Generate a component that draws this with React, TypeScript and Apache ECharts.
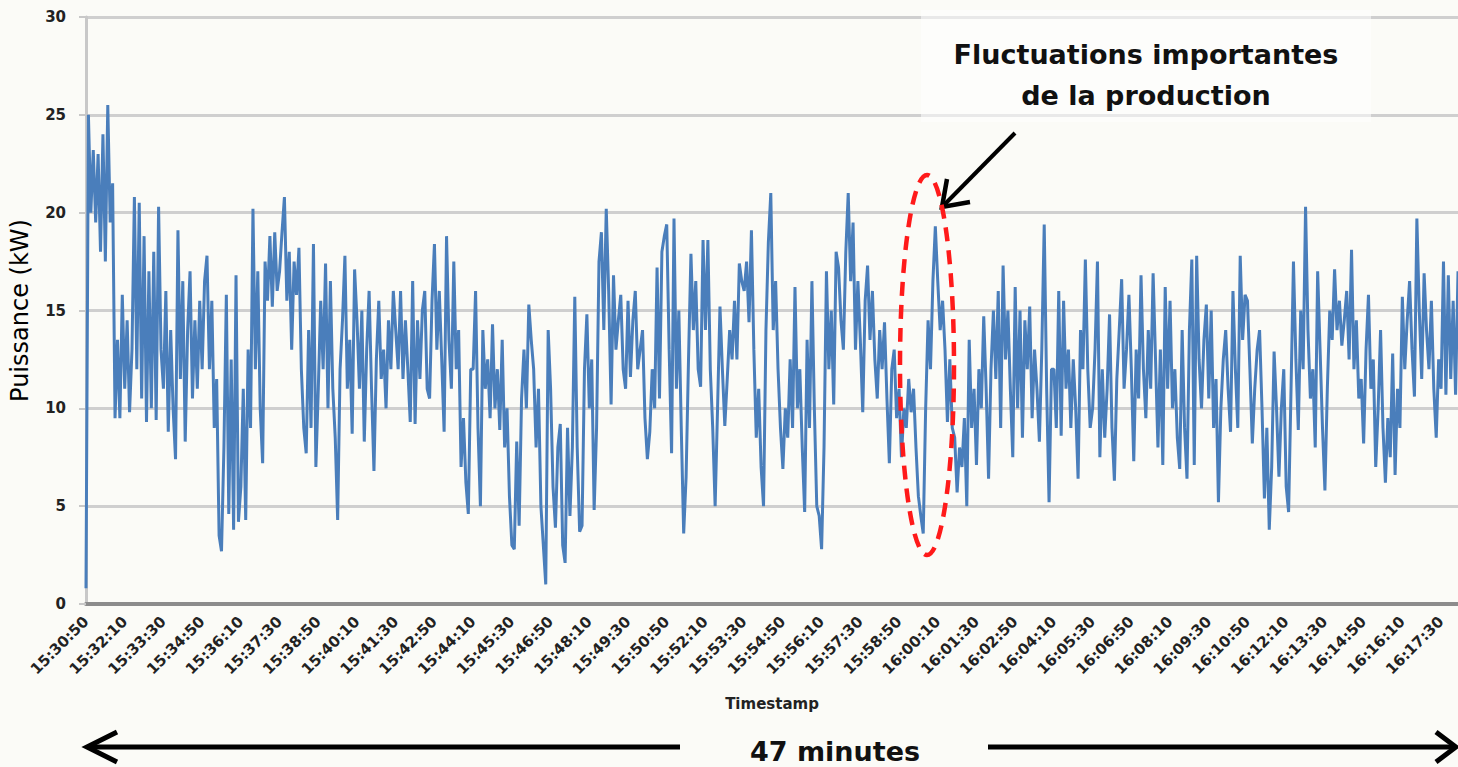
import React, { useEffect, useRef } from "react";
import * as echarts from "echarts";

// Time base: first sample 15:30:50, one sample every 5 s, a label every 80 s
const START_SECONDS = 15 * 3600 + 30 * 60 + 50;
const STEP_SECONDS = 5;
const LABEL_EVERY = 16;

// Power (kW), in blocks of 5 min 20 s
const power_153050 = [
  0.8, 25, 20, 23.2, 19.5, 23, 18, 24, 17.5, 25.5, 19.5, 21.5, 9.5, 13.5, 9.5, 15.8,
  11, 14.5, 9.8, 13, 20.8, 12, 20.5, 10.5, 18.8, 9.3, 17, 10, 18, 9.4, 20.3, 13,
  11, 16, 8.8, 14, 10, 7.4, 19.1, 11.5, 16.5, 8.3, 14, 17, 10.5, 14.5, 11, 15.5,
  12, 16.5, 17.8, 12, 15.5, 9, 11.5, 3.5, 2.7, 8, 15.8, 4.6, 12.5, 3.8, 16.8, 4.2,
];
const power_153610 = [
  6, 11, 4.3, 13, 9, 20.2, 12, 17, 10, 7.2, 17.5, 15.5, 18.8, 15.2, 19, 16,
  17, 19, 20.8, 15.5, 18, 13, 17.5, 15.8, 18.2, 12, 9, 7.7, 14, 9, 18.4, 7,
  11, 15.5, 12, 17.4, 10, 16.5, 11, 8.5, 4.3, 12, 14.5, 17.8, 11, 13.5, 8.7, 17.1,
  14.5, 11, 15, 8.3, 13, 16, 11, 6.8, 12.5, 15.5, 11.5, 13, 10, 14.5, 12, 16,
];
const power_154130 = [
  14, 12, 16, 11.5, 14.5, 12, 9.3, 16.5, 9.2, 14.5, 11.5, 15, 16, 11, 10.5, 15.5,
  18.4, 13, 16, 12.5, 8.8, 18.8, 13.5, 11, 17.5, 12, 14, 7, 9.5, 6.2, 4.6, 12,
  12, 16, 9, 5, 14, 11, 12.5, 9.5, 14.3, 10, 12, 8.9, 13.5, 8, 10, 5.5,
  3, 2.8, 8.3, 4, 10.5, 13, 10, 15.3, 13.5, 12, 8, 11, 5, 3, 1, 14,
];
const power_154650 = [
  11, 6, 3.9, 8, 9.2, 3, 2.1, 9, 4.5, 8, 15.7, 8, 3.7, 4, 12, 14.8,
  10, 12.5, 4.8, 9, 17.5, 19, 14, 20.2, 16, 10.2, 16.8, 13, 14.5, 15.8, 12, 11,
  15.5, 11.6, 14.5, 16, 12, 13, 14, 9.5, 7.4, 8.8, 12, 10, 17.2, 10.5, 18, 18.8,
  19.4, 13, 7.7, 19.7, 11, 15, 9, 3.6, 6.5, 12.5, 17.9, 14, 16.5, 12, 11.1, 18.6,
];
const power_155210 = [
  14, 18.6, 12, 9, 5, 10, 15.2, 12, 9.1, 11.5, 14, 12.5, 15.5, 12.5, 17.4, 16.5,
  16, 17.5, 14.4, 19.1, 13, 8.5, 11, 7, 5, 14, 18.5, 21, 14, 16.5, 12, 9,
  6.9, 10, 8.5, 12.5, 9, 16.2, 10, 12, 8, 4.7, 13.5, 9, 16.5, 10, 5, 4.5,
  2.8, 8, 17, 12, 15, 10.2, 18, 17.2, 14.5, 13, 18, 21, 16.5, 19.5, 13, 16.5,
];
const power_155730 = [
  13.5, 9.8, 15.5, 17.3, 13.5, 16, 12.5, 10.5, 14, 12, 14.4, 10.5, 7.2, 12, 13, 9.5,
  11, 7.5, 10, 9, 11.5, 9.8, 11, 8, 5.5, 4.5, 3.6, 10, 14.5, 12, 16.5, 19.3,
  16.5, 14, 15.5, 13, 9.3, 12.5, 9, 8.5, 5.7, 8, 7, 9.5, 5, 13.5, 9, 11,
  7.1, 12, 10, 14.7, 11, 6.4, 12, 15, 11.5, 16, 9, 17.3, 12.5, 15, 11, 7.5,
];
const power_160250 = [
  16.2, 10, 15, 8.5, 14.5, 12, 15.2, 9.5, 13, 11, 8.3, 13, 19.4, 11, 5.2, 12,
  12, 9, 16, 8.6, 15.5, 11, 13, 9, 12.5, 10, 6.4, 14, 12, 17.6, 12, 9,
  10, 13, 17.5, 7.5, 12, 8.5, 11, 14.8, 9, 6.3, 11.5, 14, 16.6, 11, 13, 15.8,
  12, 7.3, 13, 10.5, 16.8, 12, 9.5, 14, 11, 16.9, 12.5, 8, 13, 7.1, 16.2, 11,
];
const power_160810 = [
  15.5, 10, 12, 8.5, 6.9, 14, 9, 6.4, 14, 17.6, 7.1, 17.8, 12.5, 10, 13.5, 15.3,
  10.5, 15, 9, 11.5, 5.2, 10, 12.5, 14, 11, 8.8, 16, 12, 9, 17.8, 13.5, 15.8,
  15.5, 12, 8.2, 11, 13, 14, 10, 5.4, 9, 3.8, 7, 12.9, 10, 6.5, 10, 12,
  6, 4.7, 11, 17.5, 12.5, 8.9, 15, 12, 20.3, 14, 10.5, 12, 8, 17, 13, 9,
];
const power_161330 = [
  5.8, 11, 15, 13.5, 17.1, 14, 15.5, 13.2, 14.5, 16, 12.5, 18.1, 12, 14.5, 10.5, 11.5,
  8.2, 13, 15.8, 11, 12.5, 7, 10, 14, 9, 6.2, 9.5, 7.5, 12.8, 6.6, 11, 9,
  15.7, 12, 14.5, 16.5, 13, 10.6, 19.7, 15, 11.5, 16.9, 14, 12, 15.5, 11, 8.5, 12.5,
  11, 17.5, 10.7, 16.8, 11.5, 15.5, 10.7, 17,
];

const power = [
  ...power_153050,
  ...power_153610,
  ...power_154130,
  ...power_154650,
  ...power_155210,
  ...power_155730,
  ...power_160250,
  ...power_160810,
  ...power_161330,
];

const pad = (n: number) => (n < 10 ? "0" + n : "" + n);
const timestamps = power.map((_, i) => {
  const t = START_SECONDS + i * STEP_SECONDS;
  return `${pad(Math.floor(t / 3600))}:${pad(Math.floor((t % 3600) / 60))}:${pad(t % 60)}`;
});

const Y_MIN = 0;
const Y_MAX = 30;
const Y_STEP = 5;

const TEXT_ANNOT_1 = "Fluctuations importantes";
const TEXT_ANNOT_2 = "de la production";
const TEXT_DURATION = "47 minutes";

const FONT = "DejaVu Sans";

export default function App() {
  const ref = useRef<HTMLDivElement>(null);

  useEffect(() => {
    if (!ref.current) return;
    const chart = echarts.init(ref.current, null, { renderer: "svg" });
    const arrowStroke = { stroke: "#000", lineWidth: 5, fill: "none", lineJoin: "miter" as const };
    chart.setOption({
      animation: false,
      backgroundColor: "#fbfbf7",
      grid: { left: 86, right: 0, top: 17, bottom: 163, containLabel: false },
      xAxis: {
        type: "category",
        data: timestamps,
        boundaryGap: false,
        name: "Timestamp",
        nameLocation: "middle",
        nameGap: 92,
        nameTextStyle: { fontFamily: FONT, fontWeight: "bold", fontSize: 15, color: "#222" },
        axisLine: { lineStyle: { color: "#8c8c8c", width: 4 } },
        axisTick: { show: false },
        axisLabel: {
          interval: LABEL_EVERY - 1,
          rotate: 45,
          margin: 15,
          fontFamily: FONT,
          fontWeight: "bold",
          fontSize: 15,
          color: "#222",
        },
        splitLine: { show: false },
      },
      yAxis: {
        type: "value",
        min: Y_MIN,
        max: Y_MAX,
        interval: Y_STEP,
        name: "Puissance (kW)",
        nameLocation: "middle",
        nameGap: 54,
        nameTextStyle: { fontFamily: FONT, fontSize: 24, color: "#000" },
        axisLine: { show: true, lineStyle: { color: "#c8c8c8", width: 3 } },
        axisTick: { show: true, length: 7, lineStyle: { color: "#c8c8c8", width: 2 } },
        axisLabel: { margin: 20, fontFamily: FONT, fontWeight: "bold", fontSize: 15, color: "#222" },
        splitLine: { lineStyle: { color: "#cfcfcf", width: 3 } },
      },
      series: [
        {
          type: "line",
          data: power,
          symbol: "none",
          showSymbol: false,
          lineStyle: { color: "#4a7ebb", width: 3 },
          z: 3,
        },
      ],
      graphic: [
        {
          type: "rect",
          z: 5,
          shape: { x: 921, y: 10, width: 450, height: 112 },
          style: { fill: "rgba(255,255,255,0.55)" },
        },
        {
          type: "text",
          z: 6,
          x: 1146,
          y: 54,
          style: {
            text: TEXT_ANNOT_1,
            fontFamily: FONT,
            fontWeight: "bold",
            fontSize: 27,
            fill: "#111",
            align: "center",
            verticalAlign: "middle",
            textAlign: "center",
            textVerticalAlign: "middle",
          },
        },
        {
          type: "text",
          z: 6,
          x: 1146,
          y: 95,
          style: {
            text: TEXT_ANNOT_2,
            fontFamily: FONT,
            fontWeight: "bold",
            fontSize: 27,
            fill: "#111",
            align: "center",
            verticalAlign: "middle",
            textAlign: "center",
            textVerticalAlign: "middle",
          },
        },
        {
          type: "line",
          z: 6,
          shape: { x1: 1015, y1: 133, x2: 944, y2: 205 },
          style: { stroke: "#000", lineWidth: 4 },
        },
        {
          type: "polyline",
          z: 6,
          shape: { points: [[970, 202], [942, 207], [947, 179]] },
          style: { stroke: "#000", lineWidth: 4.5, fill: "none" },
        },
        {
          type: "ellipse",
          z: 7,
          shape: { cx: 927, cy: 365, rx: 27, ry: 190 },
          style: { fill: "none", stroke: "#ff1a1a", lineWidth: 4.5, lineDash: [14, 9] },
        },
        {
          type: "line",
          z: 6,
          shape: { x1: 88, y1: 747, x2: 680, y2: 747 },
          style: { stroke: "#000", lineWidth: 5 },
        },
        {
          type: "polyline",
          z: 6,
          shape: { points: [[117, 732], [87, 747], [117, 762]] },
          style: arrowStroke,
        },
        {
          type: "line",
          z: 6,
          shape: { x1: 988, y1: 747, x2: 1454, y2: 747 },
          style: { stroke: "#000", lineWidth: 5 },
        },
        {
          type: "polyline",
          z: 6,
          shape: { points: [[1436, 732], [1456, 747], [1436, 762]] },
          style: arrowStroke,
        },
        {
          type: "text",
          z: 6,
          x: 835,
          y: 751,
          style: {
            text: TEXT_DURATION,
            fontFamily: FONT,
            fontWeight: "bold",
            fontSize: 27,
            fill: "#111",
            align: "center",
            verticalAlign: "middle",
            textAlign: "center",
            textVerticalAlign: "middle",
          },
        },
      ],
    });
    return () => chart.dispose();
  }, []);

  return (
    <div
      ref={ref}
      style={{ position: "absolute", left: 0, top: 0, width: 1458, height: 767 }}
    />
  );
}
